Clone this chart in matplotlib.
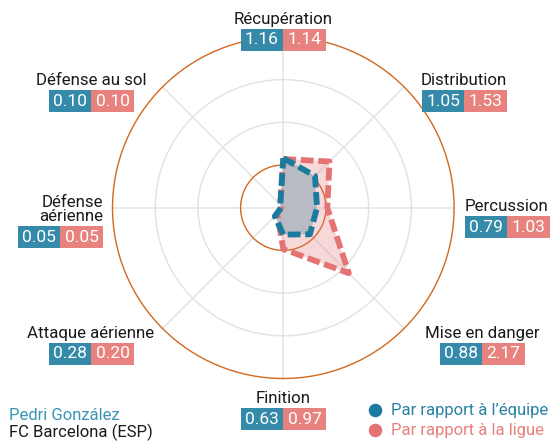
import numpy as np
import matplotlib.pyplot as plt
from matplotlib.patches import Circle, Rectangle

plt.rcParams['font.family'] = ['Roboto', 'DejaVu Sans']

# ---- data ----
categories = ['Récupération', 'Distribution', 'Percussion', 'Mise en danger',
              'Finition', 'Attaque aérienne', 'Défense\naérienne', 'Défense au sol']
team_vals = [1.16, 1.05, 0.79, 0.88, 0.63, 0.28, 0.05, 0.10]
league_vals = [1.14, 1.53, 1.03, 2.17, 0.97, 0.20, 0.05, 0.10]
player = 'Pedri González'
club = 'FC Barcelona (ESP)'
legend_labels = ['Par rapport à l’équipe', 'Par rapport à la ligue']
r_max = 4

# ---- layout (pixels) ----
W, H = 555, 441
CX, CY, U = 283.3, 207.7, 42.7          # radar centre and pixels per unit
# label anchors: split x of the two boxes, box centre y, text anchor x, alignment
label_pos = [(283, 40, 283, 'center'), (464, 101, 464, 'center'),
             (507, 227, 507, 'center'), (482, 354, 482, 'center'),
             (283, 419, 283, 'center'), (91, 354, 91, 'center'),
             (60, 237, 103, 'right'), (91, 101, 91, 'center')]

C_BLUE = '#1b7b9e'
C_RED = '#e57373'
C_BOX_BLUE = '#348aa8'
C_BOX_RED = '#e8827e'
C_ORANGE = '#d2691e'
C_GRID = '#e4e4e4'


def px(x, y):
    return (x - CX) / U, (CY - y) / U


fig = plt.figure(figsize=(W / 100, H / 100), dpi=100)
ax = fig.add_axes([0, 0, 1, 1])
ax.set_xlim(-CX / U, (W - CX) / U)
ax.set_ylim(-(H - CY) / U, CY / U)
ax.axis('off')

angles = np.deg2rad(90 - 45 * np.arange(len(categories)))

# grid
for r in [2, 3]:
    ax.add_patch(Circle((0, 0), r, fill=False, ec=C_GRID, lw=1.1, zorder=1))
for a in angles:
    ax.plot([0, r_max * np.cos(a)], [0, r_max * np.sin(a)], color=C_GRID, lw=1.1, zorder=1)
for r in [1, r_max]:
    ax.add_patch(Circle((0, 0), r, fill=False, ec=C_ORANGE, lw=1.0, zorder=2))

# polygons
lx = np.array(league_vals) * np.cos(angles)
ly = np.array(league_vals) * np.sin(angles)
tx = np.array(team_vals) * np.cos(angles)
ty = np.array(team_vals) * np.sin(angles)
ax.fill(lx, ly, color=C_RED, alpha=0.28, lw=0, zorder=3)
ax.fill(tx, ty, color='#aeb7c2', alpha=0.85, lw=0, zorder=4)
ax.plot(np.append(lx, lx[0]), np.append(ly, ly[0]), color=C_RED, lw=4.2,
        ls=(0, (2.2, 0.8)), zorder=5)
ax.plot(np.append(tx, tx[0]), np.append(ty, ty[0]), color=C_BLUE, lw=4.2,
        ls=(0, (2.2, 0.8)), zorder=6)

# labels with value boxes
bw_b, bw_r, bh = 42, 43, 21.7
for cat, tv, lv, (sx, sy, tx_, ha) in zip(categories, team_vals, league_vals, label_pos):
    x0, y0 = px(sx - bw_b, sy + bh / 2)
    ax.add_patch(Rectangle((x0, y0), bw_b / U, bh / U, color=C_BOX_BLUE, lw=0, zorder=7))
    x1, _ = px(sx, sy)
    ax.add_patch(Rectangle((x1, y0), bw_r / U, bh / U, color=C_BOX_RED, lw=0, zorder=7))
    cx_b, cy_b = px(sx - bw_b / 2, sy)
    ax.text(cx_b, cy_b, f'{tv:.2f}', color='white', fontsize=12.5, ha='center',
            va='center', zorder=8)
    cx_r, _ = px(sx + bw_r / 2, sy)
    ax.text(cx_r, cy_b, f'{lv:.2f}', color='white', fontsize=12.5, ha='center',
            va='center', zorder=8)
    lx_, ly_ = px(tx_, sy - bh / 2 - 5)
    ax.text(lx_, ly_, cat, color='#1a1a1a', fontsize=12.2, ha=ha, va='baseline',
            multialignment=ha, linespacing=0.95, zorder=8)

# legend
for lab, col, tcol, yy in zip(legend_labels, [C_BLUE, C_RED], ['#2882a5', '#e8807c'], [410, 430]):
    mx, my = px(375, yy)
    ax.scatter([mx], [my], s=95, color=col, lw=0, zorder=8)
    ttx, tty = px(391, yy)
    ax.text(ttx, tty, lab, color=tcol, fontsize=12, ha='left', va='center', zorder=8)

# player info
ax.text(*px(9, 420), player, color='#3a95b4', fontsize=12, ha='left', va='baseline')
ax.text(*px(9, 437), club, color='#1a1a1a', fontsize=12, ha='left', va='baseline')

fig.savefig('out.png', dpi=100)
